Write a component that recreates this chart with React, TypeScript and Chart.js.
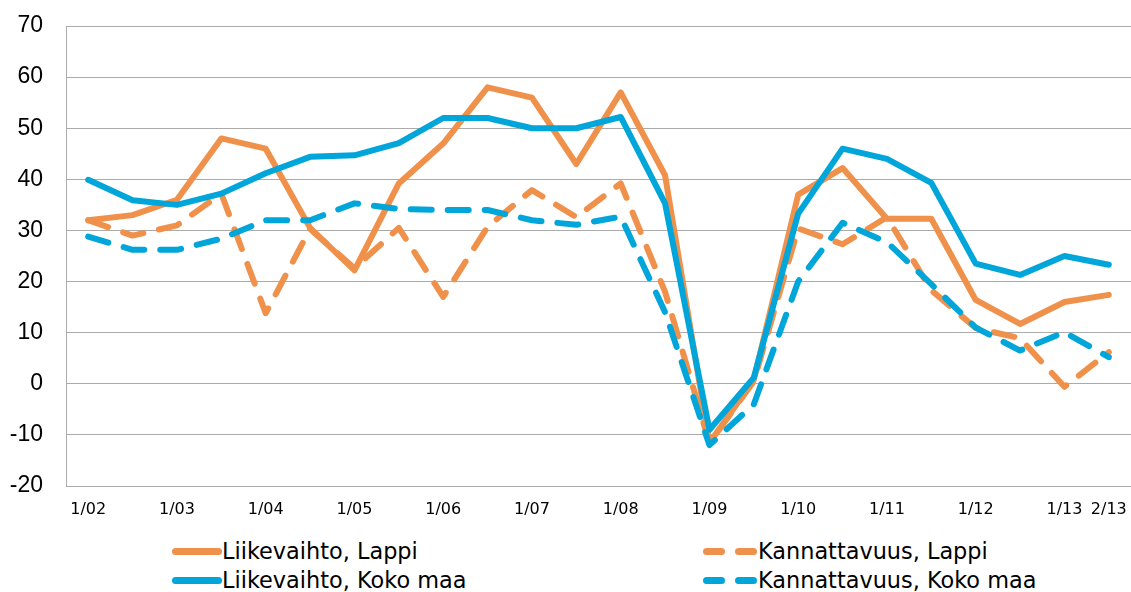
import React, { useEffect, useRef } from "react";
import { Chart, registerables } from "chart.js";

Chart.register(...registerables);

// Half-year periods 1/02 ... 2/13
const categories = [
  "1/02", "2/02", "1/03", "2/03", "1/04", "2/04", "1/05", "2/05",
  "1/06", "2/06", "1/07", "2/07", "1/08", "2/08", "1/09", "2/09",
  "1/10", "2/10", "1/11", "2/11", "1/12", "2/12", "1/13", "2/13",
];

const liikevaihtoLappi = [
  32, 33, 36, 48, 46, 30.5, 22.2, 39.2, 47, 58, 56, 43,
  57, 40.8, -11.6, 0.8, 37, 42.2, 32.3, 32.3, 16.4, 11.7, 16, 17.4,
];
const liikevaihtoKoko = [
  39.9, 35.9, 35, 37.2, 41.2, 44.4, 44.7, 47.1, 52, 52, 50, 50,
  52.2, 35.3, -9, 1.2, 33.3, 46, 44, 39.3, 23.5, 21.3, 25, 23.3,
];
const kannattavuusLappi = [
  32, 29, 31, 37.2, 13.8, 30.3, 22.6, 30.5, 17, 30.7, 37.9, 32.6,
  39.2, 18, -11.6, 0.5, 30.4, 27.3, 32.6, 18.3, 10.9, 8.9, -0.6, 6.2,
];
const kannattavuusKoko = [
  28.8, 26.2, 26.2, 28.4, 32, 32, 35.3, 34.2, 34, 34, 32, 31.1,
  32.7, 14, -12, -4, 20, 31.5, 27.7, 19.5, 11, 6.5, 10.1, 5.2,
];

const seriesNames = [
  "Liikevaihto, Lappi",
  "Kannattavuus, Lappi",
  "Liikevaihto, Koko maa",
  "Kannattavuus, Koko maa",
];

const ORANGE = "#F0914B";
const BLUE = "#00A5DA";
const GRID = "#ABABAB";

export default function App() {
  const ref = useRef<HTMLCanvasElement>(null);

  useEffect(() => {
    if (!ref.current) return;
    const lastIdx = categories.length - 1;
    const chart = new Chart(ref.current, {
      type: "line",
      data: {
        labels: categories,
        datasets: [
          {
            label: seriesNames[2],
            data: liikevaihtoKoko,
            borderColor: BLUE,
            backgroundColor: BLUE,
            borderWidth: 6,
            pointRadius: 0,
            borderJoinStyle: "round",
            borderCapStyle: "round",
            order: 0,
          },
          {
            label: seriesNames[3],
            data: kannattavuusKoko,
            borderColor: BLUE,
            backgroundColor: BLUE,
            borderWidth: 6,
            pointRadius: 0,
            borderDash: [21, 16],
            borderJoinStyle: "round",
            borderCapStyle: "round",
            order: 1,
          },
          {
            label: seriesNames[0],
            data: liikevaihtoLappi,
            borderColor: ORANGE,
            backgroundColor: ORANGE,
            borderWidth: 6,
            pointRadius: 0,
            borderJoinStyle: "round",
            borderCapStyle: "round",
            order: 2,
          },
          {
            label: seriesNames[1],
            data: kannattavuusLappi,
            borderColor: ORANGE,
            backgroundColor: ORANGE,
            borderWidth: 6,
            pointRadius: 0,
            borderDash: [21, 16],
            borderJoinStyle: "round",
            borderCapStyle: "round",
            order: 3,
          },
        ],
      },
      options: {
        responsive: false,
        animation: false,
        devicePixelRatio: 1,
        layout: { padding: { top: 26, right: 0, bottom: 0, left: 0 } },
        plugins: {
          legend: { display: false },
          tooltip: { enabled: false },
        },
        scales: {
          x: {
            type: "category",
            offset: true,
            grid: { display: false, drawTicks: false },
            border: { display: true, color: GRID, width: 1 },
            ticks: {
              autoSkip: false,
              maxRotation: 0,
              minRotation: 0,
              padding: 14,
              color: "#000",
              font: { family: "DejaVu Sans", size: 16 },
              callback: (_v: any, i: number) =>
                i % 2 === 0 || i === lastIdx ? categories[i] : "",
            },
            afterFit: (s: any) => {
              s.height = 39;
              s.paddingLeft = 0;
              s.paddingRight = 0;
            },
          },
          y: {
            min: -20,
            max: 70,
            grid: { color: GRID, lineWidth: 1, drawTicks: false },
            border: { display: true, color: GRID, width: 1 },
            ticks: {
              stepSize: 10,
              padding: 23,
              color: "#000",
              font: { family: "Liberation Sans", size: 23 },
            },
            afterFit: (s: any) => {
              s.width = 66;
              s.paddingTop = 0;
              s.paddingBottom = 0;
            },
          },
        },
      },
    });
    return () => chart.destroy();
  }, []);

  const textStyle: React.CSSProperties = {
    position: "absolute",
    fontFamily: "'DejaVu Sans', sans-serif",
    fontSize: 22.4,
    lineHeight: "26px",
    color: "#000",
    whiteSpace: "nowrap",
  };

  const solidSample = (left: number, top: number, color: string) => (
    <div
      style={{
        position: "absolute",
        left,
        top: top - 3.5,
        width: 50,
        height: 7,
        borderRadius: 4,
        background: color,
      }}
    />
  );
  const dashedSample = (left: number, top: number, color: string) => (
    <>
      <div
        style={{
          position: "absolute",
          left,
          top: top - 3.5,
          width: 22,
          height: 7,
          borderRadius: 4,
          background: color,
        }}
      />
      <div
        style={{
          position: "absolute",
          left: left + 32,
          top: top - 3.5,
          width: 22,
          height: 7,
          borderRadius: 4,
          background: color,
        }}
      />
    </>
  );

  const row1 = 551;
  const row2 = 580;

  return (
    <div
      style={{
        position: "absolute",
        left: 0,
        top: 0,
        width: 1131,
        height: 592,
        background: "#fff",
        overflow: "hidden",
      }}
    >
      <div style={{ position: "absolute", left: 0, top: 0, width: 1131, height: 525 }}>
        <canvas ref={ref} width={1131} height={525} />
      </div>
      {solidSample(172, row1, ORANGE)}
      <div style={{ ...textStyle, left: 222, top: row1 - 13 }}>{seriesNames[0]}</div>
      {solidSample(172, row2, BLUE)}
      <div style={{ ...textStyle, left: 222, top: row2 - 13 }}>{seriesNames[2]}</div>
      {dashedSample(703, row1, ORANGE)}
      <div style={{ ...textStyle, left: 758, top: row1 - 13 }}>{seriesNames[1]}</div>
      {dashedSample(703, row2, BLUE)}
      <div style={{ ...textStyle, left: 758, top: row2 - 13 }}>{seriesNames[3]}</div>
    </div>
  );
}
